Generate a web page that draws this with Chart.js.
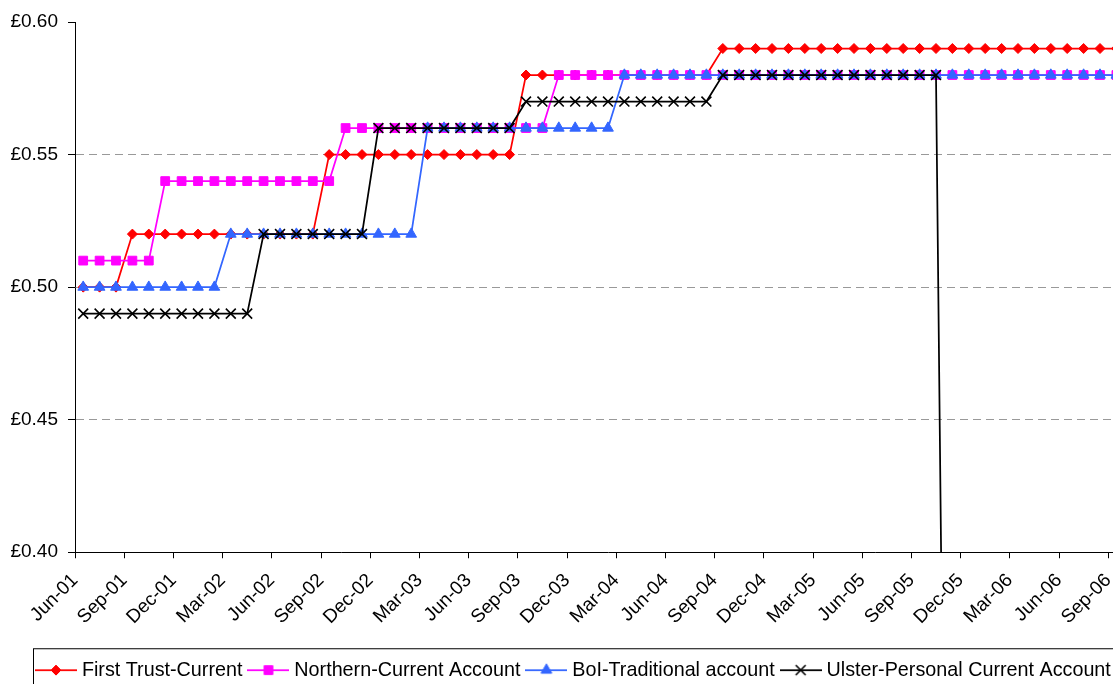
<!DOCTYPE html>
<html>
<head>
<meta charset="utf-8">
<script src="https://cdn.jsdelivr.net/npm/chart.js@4.4.0/dist/chart.umd.min.js"></script>
<style>
  html, body { margin: 0; padding: 0; background: #fff; width: 1113px; height: 684px; overflow: hidden; }
  #wrap { position: absolute; left: 0; top: 0; width: 1200px; height: 690px; }
</style>
</head>
<body>
<div id="wrap"><canvas id="rates" width="1200" height="690"></canvas></div>
<script>
// Month categories, Jun-01 .. Oct-06
const months = [
  'Jun-01','Jul-01','Aug-01','Sep-01','Oct-01','Nov-01','Dec-01',
  'Jan-02','Feb-02','Mar-02','Apr-02','May-02','Jun-02','Jul-02','Aug-02','Sep-02','Oct-02','Nov-02','Dec-02',
  'Jan-03','Feb-03','Mar-03','Apr-03','May-03','Jun-03','Jul-03','Aug-03','Sep-03','Oct-03','Nov-03','Dec-03',
  'Jan-04','Feb-04','Mar-04','Apr-04','May-04','Jun-04','Jul-04','Aug-04','Sep-04','Oct-04','Nov-04','Dec-04',
  'Jan-05','Feb-05','Mar-05','Apr-05','May-05','Jun-05','Jul-05','Aug-05','Sep-05','Oct-05','Nov-05','Dec-05',
  'Jan-06','Feb-06','Mar-06','Apr-06','May-06','Jun-06','Jul-06','Aug-06','Sep-06','Oct-06'
];

// Monthly charge per item (GBP)
const firstTrust = [
  0.50,0.50,0.50,0.52,0.52,0.52,0.52,
  0.52,0.52,0.52,0.52,0.52,0.52,0.52,0.52,0.55,0.55,0.55,0.55,
  0.55,0.55,0.55,0.55,0.55,0.55,0.55,0.55,0.58,0.58,0.58,0.58,
  0.58,0.58,0.58,0.58,0.58,0.58,0.58,0.58,0.59,0.59,0.59,0.59,
  0.59,0.59,0.59,0.59,0.59,0.59,0.59,0.59,0.59,0.59,0.59,0.59,
  0.59,0.59,0.59,0.59,0.59,0.59,0.59,0.59,0.59,0.59
];
const northern = [
  0.51,0.51,0.51,0.51,0.51,0.54,0.54,
  0.54,0.54,0.54,0.54,0.54,0.54,0.54,0.54,0.54,0.56,0.56,0.56,
  0.56,0.56,0.56,0.56,0.56,0.56,0.56,0.56,0.56,0.56,0.58,0.58,
  0.58,0.58,0.58,0.58,0.58,0.58,0.58,0.58,0.58,0.58,0.58,0.58,
  0.58,0.58,0.58,0.58,0.58,0.58,0.58,0.58,0.58,0.58,0.58,0.58,
  0.58,0.58,0.58,0.58,0.58,0.58,0.58,0.58,0.58,0.58
];
const boi = [
  0.50,0.50,0.50,0.50,0.50,0.50,0.50,
  0.50,0.50,0.52,0.52,0.52,0.52,0.52,0.52,0.52,0.52,0.52,0.52,
  0.52,0.52,0.56,0.56,0.56,0.56,0.56,0.56,0.56,0.56,0.56,0.56,
  0.56,0.56,0.58,0.58,0.58,0.58,0.58,0.58,0.58,0.58,0.58,0.58,
  0.58,0.58,0.58,0.58,0.58,0.58,0.58,0.58,0.58,0.58,0.58,0.58,
  0.58,0.58,0.58,0.58,0.58,0.58,0.58,0.58,0.58,0.58
];
const ulster = [
  0.49,0.49,0.49,0.49,0.49,0.49,0.49,
  0.49,0.49,0.49,0.49,0.52,0.52,0.52,0.52,0.52,0.52,0.52,0.56,
  0.56,0.56,0.56,0.56,0.56,0.56,0.56,0.56,0.57,0.57,0.57,0.57,
  0.57,0.57,0.57,0.57,0.57,0.57,0.57,0.57,0.58,0.58,0.58,0.58,
  0.58,0.58,0.58,0.58,0.58,0.58,0.58,0.58,0.58,0.58,0,null,
  null,null,null,null,null,null,null,null,null,null
];

const yTicks = [0.40, 0.45, 0.50, 0.55, 0.60];

const FONT = 'Liberation Sans, Arial, sans-serif';

// Each month sits in the middle of its slot; tick marks fall on slot edges.
const toPoints = arr => arr.map((v, i) => ({ x: i + 0.5, y: v }));

function series(label, values, color, pointStyle, radius, order, borderW) {
  return {
    label,
    data: toPoints(values),
    borderColor: color,
    backgroundColor: color,
    pointBackgroundColor: color,
    pointBorderColor: color,
    borderWidth: 1.75,
    pointStyle,
    pointRadius: radius,
    pointHoverRadius: radius,
    pointBorderWidth: borderW,
    tension: 0,
    spanGaps: false,
    yAxisID: 'y',
    order
  };
}

const datasets = [
  series('First Trust-Current', firstTrust, '#FF0000', 'rectRot', 5, 3, 1),
  series('Northern-Current Account', northern, '#FF00FF', 'rect', 6.2, 2, 1),
  series('BoI-Traditional account', boi, '#3366FF', 'triangle', 6.2, 1, 1),
  series('Ulster-Personal Current Account', ulster, '#000000', 'crossRot', 7, 0, 1.6)
];

// Legend keys: a short line with the series marker in the middle
const ICON_W = 42;
function legendIcon(ds) {
  const c = document.createElement('canvas');
  c.width = ICON_W; c.height = 16;
  const g = c.getContext('2d');
  g.strokeStyle = ds.borderColor;
  g.lineWidth = ds.borderWidth;
  g.beginPath(); g.moveTo(0, 8); g.lineTo(ICON_W, 8); g.stroke();
  g.fillStyle = ds.pointBackgroundColor;
  g.strokeStyle = ds.pointBorderColor;
  g.lineWidth = ds.pointBorderWidth;
  Chart.helpers.drawPoint(g, { pointStyle: ds.pointStyle, radius: ds.pointRadius, borderWidth: ds.pointBorderWidth, rotation: 0 }, ICON_W / 2, 8);
  return c;
}
const icons = datasets.map(legendIcon);

// Places the legend row and draws the frame around it
const legendFrame = {
  id: 'legendFrame',
  afterLayout(chart) {
    chart.legend.left = 30;
  },
  afterDraw(chart) {
    const lg = chart.legend;
    const ctx = chart.ctx;
    ctx.save();
    ctx.strokeStyle = '#000';
    ctx.lineWidth = 1;
    ctx.strokeRect(33.5, lg.top - 1.5, chart.width, 44);
    ctx.restore();
  }
};

new Chart(document.getElementById('rates'), {
  type: 'line',
  data: { datasets },
  plugins: [legendFrame],
  options: {
    responsive: false,
    animation: false,
    devicePixelRatio: 1,
    layout: { padding: { top: 22, right: 0, left: 0, bottom: 0 } },
    plugins: {
      tooltip: { enabled: false },
      legend: {
        position: 'bottom',
        align: 'start',
        labels: {
          usePointStyle: true,
          pointStyleWidth: 32,
          padding: 10,
          color: '#000',
          font: { family: FONT, size: 19.75 },
          generateLabels: chart => chart.data.datasets.map((ds, i) => ({
            text: ds.label,
            pointStyle: icons[i],
            datasetIndex: i,
            fontColor: '#000',
            fillStyle: 'transparent',
            strokeStyle: 'transparent',
            lineWidth: 0,
            hidden: false
          }))
        }
      }
    },
    scales: {
      x: {
        type: 'linear',
        min: 0,
        max: months.length,
        afterFit: s => { s.height = 98; },
        ticks: {
          stepSize: 3,
          includeBounds: false,
          autoSkip: false,
          minRotation: 45,
          maxRotation: 45,
          padding: 11,
          color: '#000',
          font: { family: FONT, size: 19 },
          callback: v => months[v] ?? ''
        },
        grid: { drawOnChartArea: false, tickLength: 6, tickColor: '#000', tickWidth: 1 },
        border: { color: '#000', width: 1 }
      },
      y: {
        position: 'left',
        min: yTicks[0],
        max: yTicks[yTicks.length - 1],
        afterFit: s => { s.width = 75; },
        afterBuildTicks: s => { s.ticks = yTicks.map(v => ({ value: v })); },
        ticks: {
          padding: 10,
          color: '#000',
          font: { family: FONT, size: 19 },
          callback: v => '£' + Number(v).toFixed(2)
        },
        grid: {
          color: c => (c.tick && c.tick.value > yTicks[0] + 1e-9 && c.tick.value < yTicks[yTicks.length - 1] - 1e-9) ? '#999999' : 'rgba(0,0,0,0)',
          lineWidth: 1,
          tickLength: 7,
          tickColor: '#000',
          tickBorderDash: []
        },
        border: { color: '#000', width: 1, dash: [8, 5] }
      },
      // empty margin on the right of the plot
      yRight: {
        position: 'right',
        display: true,
        min: 0,
        max: 1,
        afterFit: s => { s.width = 59; },
        ticks: { display: false },
        grid: { display: false, drawTicks: false },
        border: { display: false }
      }
    }
  }
});
</script>
</body>
</html>
